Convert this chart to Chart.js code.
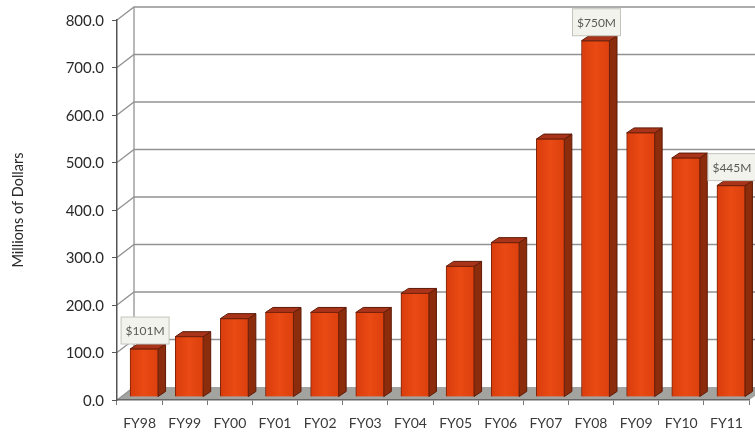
<!DOCTYPE html>
<html>
<head>
<meta charset="utf-8">
<style>
html, body { margin: 0; padding: 0; background: #fff; }
#wrap { width: 755px; height: 437px; }
</style>
<script src="https://cdn.jsdelivr.net/npm/chart.js@4"></script>
</head>
<body>
<div id="wrap"><canvas id="fundingChart" width="755" height="437"></canvas></div>
<script>
const years = ['FY98', 'FY99', 'FY00', 'FY01', 'FY02', 'FY03', 'FY04', 'FY05', 'FY06', 'FY07', 'FY08', 'FY09', 'FY10', 'FY11'];
const dollars = [101, 127, 165, 178, 178, 178, 218, 275, 325, 543, 750, 556, 503, 445];
const calloutYears = ['FY98', 'FY08', 'FY11'];
const calloutText = ['$101M', '$750M', '$445M'];

// fake 3D look: back wall sits up and right of the axis lines
const wallDx = 17, wallDy = -13;
const barDx = 4.5, barDy = -3;
const sideDx = 7.5, sideDy = -5;

const wallPlugin = {
    id: 'wall',
    beforeDraw(chart) {
        const { ctx, chartArea, scales } = chart;
        const y = scales.y;
        ctx.save();
        // floor
        ctx.fillStyle = '#a3a3a0';
        ctx.beginPath();
        ctx.moveTo(chartArea.left, chartArea.bottom);
        ctx.lineTo(chartArea.left + wallDx, chartArea.bottom + wallDy);
        ctx.lineTo(755, chartArea.bottom + wallDy);
        ctx.lineTo(755, chartArea.bottom - 4);
        ctx.lineTo(chartArea.right, chartArea.bottom);
        ctx.closePath();
        ctx.fill();
        // grid lines on the wall plus the diagonal back to the axis
        ctx.strokeStyle = '#929292';
        ctx.lineWidth = 1.3;
        y.ticks.forEach(t => {
            const py = y.getPixelForValue(t.value);
            ctx.beginPath();
            ctx.moveTo(chartArea.left, py);
            ctx.lineTo(chartArea.left + wallDx, py + wallDy);
            if (t.value > 0) ctx.lineTo(755, py + wallDy);
            ctx.stroke();
        });
        ctx.beginPath();
        ctx.moveTo(chartArea.left + wallDx, y.getPixelForValue(0) + wallDy);
        ctx.lineTo(chartArea.left + wallDx, y.getPixelForValue(800) + wallDy);
        ctx.stroke();
        ctx.restore();
    }
};

const boxPlugin = {
    id: 'box3d',
    beforeDatasetsDraw(chart) {
        const { ctx } = chart;
        ctx.save();
        ctx.translate(barDx, barDy);
        chart.getDatasetMeta(0).data.forEach(bar => {
            const l = bar.x - bar.width / 2, r = bar.x + bar.width / 2;
            ctx.lineWidth = 1;
            ctx.strokeStyle = '#5e1a06';
            // right side
            ctx.fillStyle = '#8b2c0c';
            ctx.beginPath();
            ctx.moveTo(r, bar.y);
            ctx.lineTo(r + sideDx, bar.y + sideDy);
            ctx.lineTo(r + sideDx, bar.base + sideDy);
            ctx.lineTo(r, bar.base);
            ctx.closePath();
            ctx.fill();
            ctx.stroke();
            // top
            ctx.fillStyle = '#a9341a';
            ctx.beginPath();
            ctx.moveTo(l, bar.y);
            ctx.lineTo(l + sideDx, bar.y + sideDy);
            ctx.lineTo(r + sideDx, bar.y + sideDy);
            ctx.lineTo(r, bar.y);
            ctx.closePath();
            ctx.fill();
            ctx.stroke();
        });
    },
    afterDatasetsDraw(chart) {
        const { ctx } = chart;
        ctx.restore();
        // value callouts
        const bars = chart.getDatasetMeta(0).data;
        calloutYears.forEach((yr, i) => {
            const bar = bars[years.indexOf(yr)];
            const cx = bar.x + barDx + 1, cy = bar.y + barDy - 19;
            ctx.save();
            ctx.fillStyle = '#f3f3ee';
            ctx.strokeStyle = '#c4c4bc';
            ctx.lineWidth = 1;
            ctx.fillRect(cx - 24, cy - 13, 48, 27);
            ctx.strokeRect(cx - 24, cy - 13, 48, 27);
            ctx.fillStyle = '#5a5a55';
            ctx.font = '12px Lato';
            ctx.textAlign = 'center';
            ctx.textBaseline = 'middle';
            ctx.fillText(calloutText[i], cx, cy + 1);
            ctx.restore();
        });
    }
};

function barFill(context) {
    const chart = context.chart;
    const cx = chart.scales.x ? chart.scales.x.getPixelForValue(context.dataIndex) : NaN;
    if (!Number.isFinite(cx)) return '#e5450f'; // scale not laid out yet
    const g = chart.ctx.createLinearGradient(cx - 14, 0, cx + 14, 0);
    g.addColorStop(0, '#d93d0c');
    g.addColorStop(0.5, '#ea4a14');
    g.addColorStop(1, '#dc400d');
    return g;
}

new Chart(document.getElementById('fundingChart').getContext('2d'), {
    type: 'bar',
    data: {
        labels: years,
        datasets: [{
            data: dollars,
            backgroundColor: barFill,
            borderColor: '#7a2208',
            borderWidth: 1,
            barThickness: 28,
            clip: false
        }]
    },
    options: {
        responsive: false,
        animation: false,
        layout: { padding: { top: 20, right: 6, left: 0, bottom: 0 } },
        plugins: { legend: { display: false }, tooltip: { enabled: false } },
        scales: {
            x: {
                afterFit(scale) { scale.height = 37; },
                grid: { drawOnChartArea: false, tickLength: 5, color: '#777' },
                border: { color: '#666', width: 1.5 },
                ticks: { color: '#3a3a3a', font: { family: 'Lato', size: 14 }, padding: 10, maxRotation: 0 }
            },
            y: {
                min: 0,
                max: 800,
                afterFit(scale) { scale.width = 117; },
                grid: { drawOnChartArea: false, tickLength: 5, color: '#555' },
                border: { color: '#555', width: 1.5 },
                ticks: {
                    stepSize: 100,
                    color: '#2a2a2a',
                    padding: 8,
                    labelOffset: 1,
                    font: { family: 'Lato', size: 15 },
                    callback: v => v.toFixed(1)
                },
                title: {
                    display: true,
                    text: 'Millions of Dollars',
                    color: '#2a2a2a',
                    font: { family: 'Lato', size: 14.5 },
                    padding: { top: 10, bottom: 0 }
                }
            }
        }
    },
    plugins: [wallPlugin, boxPlugin]
});
</script>
</body>
</html>
